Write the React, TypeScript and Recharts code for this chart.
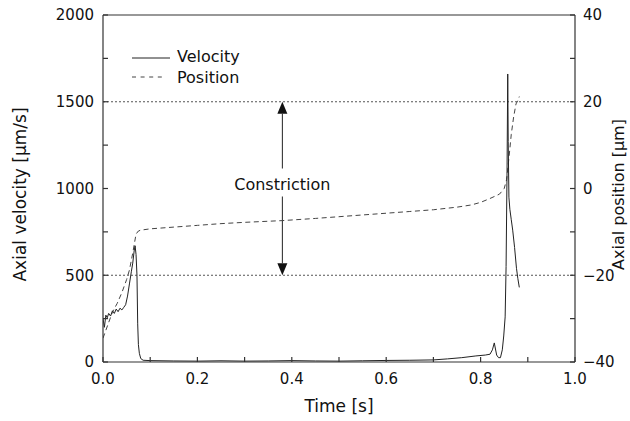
import React from 'react';
import { ComposedChart, Line, XAxis, YAxis, ReferenceLine, Legend } from 'recharts';

const FONT = "'DejaVu Sans', 'Liberation Sans', sans-serif";

const velocityTime = [
  0, 0.003, 0.006, 0.009, 0.012, 0.016, 0.02, 0.024, 0.028, 0.032,
  0.036, 0.04, 0.044, 0.048, 0.052, 0.056, 0.06, 0.063, 0.066, 0.068,
  0.07, 0.072, 0.0735, 0.075, 0.077, 0.08, 0.085, 0.1, 0.15, 0.2,
  0.25, 0.3, 0.35, 0.4, 0.45, 0.5, 0.55, 0.6, 0.65, 0.7,
  0.73, 0.76, 0.79, 0.81, 0.82, 0.825, 0.829, 0.834, 0.838, 0.842,
  0.846, 0.849, 0.852, 0.854, 0.856, 0.8575, 0.8585, 0.86, 0.862, 0.865,
  0.868, 0.872, 0.876, 0.879, 0.882,
];
const velocityValues = [
  250, 200, 270, 255, 280, 265, 295, 280, 305, 290,
  310, 300, 315, 330, 380, 450, 520, 570, 640, 670,
  620, 500, 220, 100, 50, 20, 10, 8, 6, 5,
  7, 5, 6, 8, 6, 5, 7, 9, 10, 12,
  18, 25, 35, 40, 45, 70, 110, 40, 25, 25,
  70, 150, 260, 550, 1100, 1660, 1270, 950, 880, 820,
  760, 660, 540, 480, 430,
];

const positionTime = [
  0, 0.01, 0.02, 0.03, 0.04, 0.05, 0.056, 0.063, 0.07, 0.075,
  0.08, 0.1, 0.15, 0.2, 0.25, 0.3, 0.38, 0.45, 0.5, 0.55,
  0.6, 0.65, 0.7, 0.75, 0.78, 0.8, 0.82, 0.84, 0.85, 0.855,
  0.86, 0.865, 0.87, 0.875, 0.88, 0.882,
];
const positionValues = [
  -34.5, -31.5, -28.5, -26.5, -24, -21, -18.8, -14.9, -10.5, -9.8,
  -9.6, -9.3, -8.9, -8.5, -8.1, -7.8, -7.4, -6.9, -6.5, -6.1,
  -5.7, -5.3, -4.9, -4.3, -3.8, -3.2, -2.3, -1.3, 0, 2,
  7, 12.5, 16.5, 19.5, 20.5, 21.2,
];

const timeTicks = [0, 0.1, 0.2, 0.3, 0.4, 0.5, 0.6, 0.7, 0.8, 0.9, 1.0];
const velocityTicks = [0, 250, 500, 750, 1000, 1250, 1500, 1750, 2000];
const positionTicks = [-40, -30, -20, -10, 0, 10, 20, 30, 40];
const gridVelocities = [500, 1500];
const seriesNames = ['Velocity', 'Position'];

const annotationText = 'Constriction';
const arrowTime = 0.38;
const arrowTop = 1500;
const arrowBottom = 500;

const xTitle = 'Time [s]';
const leftTitle = 'Axial velocity [\u00b5m/s]';
const rightTitle = 'Axial position [\u00b5m]';

const velocityData = velocityTime.map((t, i) => ({ t, v: velocityValues[i] }));
const positionData = positionTime.map((t, i) => ({ t, p: positionValues[i] }));

const AXIS = '#333';
const TXT = '#111';

const LeftTick = (props: any) => {
  const { x, y, payload } = props;
  if (payload.value % 500 !== 0) return <g />;
  return (
    <text x={x} y={y} dy="0.36em" textAnchor="end" fontSize={15} fontFamily={FONT} fill={TXT}>
      {payload.value}
    </text>
  );
};

const RightTick = (props: any) => {
  const { x, y, payload } = props;
  if (payload.value % 20 !== 0) return <g />;
  const label = payload.value < 0 ? '\u2212' + Math.abs(payload.value) : String(payload.value);
  return (
    <text x={x} y={y} dy="0.36em" textAnchor="start" fontSize={15} fontFamily={FONT} fill={TXT}>
      {label}
    </text>
  );
};

const BottomTick = (props: any) => {
  const { x, y, payload } = props;
  if (Math.round(payload.value * 10) % 2 !== 0) return <g />;
  return (
    <text x={x} y={y} dy="0.71em" textAnchor="middle" fontSize={15} fontFamily={FONT} fill={TXT}>
      {payload.value.toFixed(1)}
    </text>
  );
};

const LeftTitle = (props: any) => {
  const vb = props.viewBox;
  const cx = vb.x + 26;
  const cy = vb.y + vb.height / 2 + 6;
  return (
    <text x={cx} y={cy} transform={`rotate(-90 ${cx} ${cy})`} textAnchor="middle" fontSize={17} fontFamily={FONT} fill={TXT}>
      {leftTitle}
    </text>
  );
};

const RightTitle = (props: any) => {
  const vb = props.viewBox;
  const cx = vb.x + 49;
  const cy = vb.y + vb.height / 2 + 6;
  return (
    <text x={cx} y={cy} transform={`rotate(-90 ${cx} ${cy})`} textAnchor="middle" fontSize={16} fontFamily={FONT} fill={TXT}>
      {rightTitle}
    </text>
  );
};

const BottomTitle = (props: any) => {
  const vb = props.viewBox;
  return (
    <text x={vb.x + vb.width / 2} y={vb.y + 50} textAnchor="middle" fontSize={17} fontFamily={FONT} fill={TXT}>
      {xTitle}
    </text>
  );
};

const ArrowShape = (props: any) => {
  const { x1, y1, y2 } = props;
  const top = Math.min(y1, y2);
  const bottom = Math.max(y1, y2);
  const mid = (top + bottom) / 2;
  const head = 12;
  const half = 5;
  return (
    <g>
      <line x1={x1} x2={x1} y1={top + head} y2={mid - 20} stroke="#222" strokeWidth={1} />
      <line x1={x1} x2={x1} y1={mid + 8} y2={bottom - head} stroke="#222" strokeWidth={1} />
      <polygon points={`${x1},${top} ${x1 - half},${top + head} ${x1 + half},${top + head}`} fill="#111" />
      <polygon points={`${x1},${bottom} ${x1 - half},${bottom - head} ${x1 + half},${bottom - head}`} fill="#111" />
      <text x={x1} y={mid + 1} textAnchor="middle" fontSize={16} fontFamily={FONT} fill={TXT}>
        {annotationText}
      </text>
    </g>
  );
};

const LegendContent = (props: any) => {
  const items = [...(props.payload || [])].sort(
    (a: any, b: any) => seriesNames.indexOf(a.value) - seriesNames.indexOf(b.value)
  );
  return (
    <div style={{ fontFamily: FONT, fontSize: 16, color: TXT }}>
      {items.map((it: any) => {
        const dashed = !!(it.payload && it.payload.strokeDasharray);
        return (
          <div key={it.value} style={{ display: 'flex', alignItems: 'center', height: 21 }}>
            <svg width={38} height={21} style={{ display: 'block' }}>
              <line
                x1={0}
                x2={dashed ? 30 : 38}
                y1={dashed ? 10 : 12}
                y2={dashed ? 10 : 12}
                stroke={it.color}
                strokeWidth={1}
                strokeDasharray={dashed ? '4 4.6' : undefined}
              />
            </svg>
            <span style={{ marginLeft: 7, lineHeight: '21px' }}>{it.value}</span>
          </div>
        );
      })}
    </div>
  );
};

export default function App() {
  return (
    <div style={{ position: 'absolute', left: 0, top: 0, background: '#fff' }}>
      <ComposedChart width={630} height={421} margin={{ top: 15, right: 0, bottom: 0, left: 0 }}>
        <XAxis
          type="number"
          dataKey="t"
          domain={[0, 1]}
          ticks={timeTicks}
          interval={0}
          height={59}
          tickSize={-5}
          tickMargin={16}
          stroke={AXIS}
          strokeWidth={1.2}
          tick={BottomTick}
          label={BottomTitle}
          allowDataOverflow
        />
        <YAxis
          yAxisId="v"
          orientation="left"
          domain={[0, 2000]}
          ticks={velocityTicks}
          interval={0}
          width={103}
          tickSize={-5}
          tickMargin={14}
          stroke={AXIS}
          strokeWidth={1.2}
          tick={LeftTick}
          label={LeftTitle}
          allowDataOverflow
        />
        <YAxis
          yAxisId="p"
          orientation="right"
          domain={[-40, 40]}
          ticks={positionTicks}
          interval={0}
          width={55}
          tickSize={-5}
          tickMargin={13}
          stroke={AXIS}
          strokeWidth={1.2}
          tick={RightTick}
          label={RightTitle}
          allowDataOverflow
        />
        <ReferenceLine yAxisId="v" y={2000} stroke={AXIS} strokeWidth={1.2} />
        {gridVelocities.map((g) => (
          <ReferenceLine key={g} yAxisId="v" y={g} stroke="#555" strokeWidth={1} strokeDasharray="2 2" />
        ))}
        <ReferenceLine
          yAxisId="v"
          segment={[
            { x: arrowTime, y: arrowTop },
            { x: arrowTime, y: arrowBottom },
          ]}
          shape={ArrowShape}
        />
        <Line
          yAxisId="p"
          data={positionData}
          dataKey="p"
          name="Position"
          type="linear"
          stroke="#444"
          strokeWidth={1}
          strokeDasharray="5 3.5"
          dot={false}
          activeDot={false}
          isAnimationActive={false}
        />
        <Line
          yAxisId="v"
          data={velocityData}
          dataKey="v"
          name="Velocity"
          type="linear"
          stroke="#222"
          strokeWidth={1}
          dot={false}
          activeDot={false}
          isAnimationActive={false}
        />
        <Legend
          layout="vertical"
          align="center"
          verticalAlign="middle"
          content={LegendContent}
          wrapperStyle={{ left: 132, top: 46, width: 'auto', height: 'auto' }}
        />
      </ComposedChart>
    </div>
  );
}
